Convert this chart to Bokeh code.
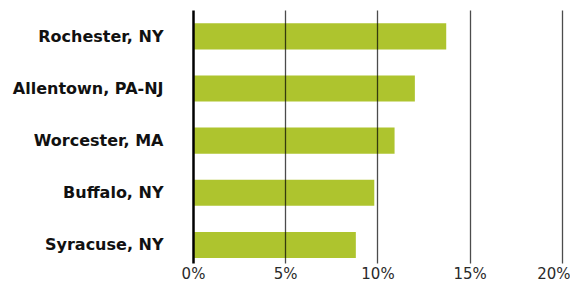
from bokeh.plotting import figure
from bokeh.models import Range1d, FixedTicker
from bokeh.embed import file_html
from bokeh.resources import INLINE

cities = ["Syracuse, NY", "Buffalo, NY", "Worcester, MA", "Allentown, PA-NJ", "Rochester, NY"]
shares = [8.8, 9.8, 10.9, 12.0, 13.7]
x_ticks = [0, 5, 10, 15, 20]
x_tick_labels = ["0%", "5%", "10%", "15%", "20%"]

ypos = list(range(len(cities)))

p = figure(width=570, height=285, output_backend="svg", toolbar_location=None,
           x_range=Range1d(0, 20.22), y_range=Range1d(-0.356, 4.496),
           min_border_left=193, min_border_right=4, min_border_top=10, min_border_bottom=16)
p.outline_line_color = None
p.background_fill_color = "white"
p.border_fill_color = "white"

p.hbar(y=ypos, right=shares, left=0, height=0.5, fill_color="#aec42e", line_color=None)

# x axis
p.xaxis.ticker = FixedTicker(ticks=x_ticks)
p.xaxis.major_label_overrides = {t: l for t, l in zip(x_ticks, x_tick_labels)}
p.xaxis.axis_line_color = None
p.xaxis.major_tick_line_color = None
p.xaxis.minor_tick_line_color = None
p.xaxis.major_tick_out = 0
p.xaxis.major_tick_in = 0
p.xaxis.major_label_standoff = 1
p.xaxis.major_label_text_font = "DejaVu Sans"
p.xaxis.major_label_text_font_size = "15px"
p.xaxis.major_label_text_color = "#2a2a2a"

# y axis
p.yaxis.ticker = FixedTicker(ticks=ypos)
p.yaxis.major_label_overrides = {i: c for i, c in zip(ypos, cities)}
p.yaxis.axis_line_color = "black"
p.yaxis.axis_line_width = 2.5
p.yaxis.major_tick_line_color = None
p.yaxis.minor_tick_line_color = None
p.yaxis.major_tick_out = 0
p.yaxis.major_tick_in = 0
p.yaxis.major_label_standoff = 30
p.yaxis.major_label_text_font = "DejaVu Sans"
p.yaxis.major_label_text_font_style = "bold"
p.yaxis.major_label_text_font_size = "16px"
p.yaxis.major_label_text_color = "#111111"

# grid
p.ygrid.grid_line_color = None
p.xgrid.ticker = FixedTicker(ticks=x_ticks[1:])
p.xgrid.grid_line_color = "black"
p.xgrid.grid_line_alpha = 0.7
p.xgrid.grid_line_width = 1.3
p.xgrid.level = "overlay"

open("out.html", "w").write(file_html(p, INLINE))
